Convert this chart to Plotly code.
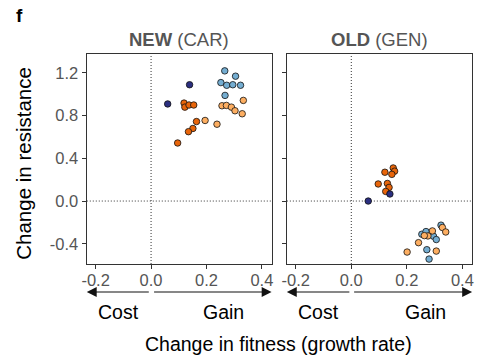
import plotly.graph_objects as go

# Panel NEW (CAR): change in fitness (x) vs change in resistance (y)
new_navy_x = [0.139, 0.060]
new_navy_y = [1.09, 0.91]
new_blue_x = [0.266, 0.305, 0.252, 0.273, 0.295, 0.323, 0.267]
new_blue_y = [1.22, 1.17, 1.11, 1.085, 1.09, 1.085, 0.99]
new_dorange_x = [0.119, 0.122, 0.137, 0.154, 0.164, 0.151, 0.135, 0.096]
new_dorange_y = [0.918, 0.88, 0.90, 0.90, 0.745, 0.68, 0.65, 0.544]
new_lorange_x = [0.195, 0.238, 0.333, 0.256, 0.272, 0.290, 0.303, 0.329]
new_lorange_y = [0.755, 0.72, 0.943, 0.893, 0.896, 0.88, 0.846, 0.818]

# Panel OLD (GEN)
old_navy_x = [0.061, 0.139]
old_navy_y = [0.00, 0.066]
old_dorange_x = [0.121, 0.151, 0.156, 0.146, 0.097, 0.130, 0.136, 0.124]
old_dorange_y = [0.27, 0.31, 0.28, 0.25, 0.16, 0.165, 0.128, 0.09]
old_blue_x = [0.254, 0.269, 0.296, 0.306, 0.323, 0.272, 0.280]
old_blue_y = [-0.311, -0.286, -0.33, -0.361, -0.226, -0.456, -0.544]
old_lorange_x = [0.276, 0.263, 0.292, 0.328, 0.340, 0.306, 0.242, 0.201]
old_lorange_y = [-0.327, -0.324, -0.28, -0.248, -0.29, -0.469, -0.39, -0.478]

x_ticks = [-0.2, 0.0, 0.2, 0.4]
x_tick_text = ["-0.2", "0.0", "0.2", "0.4"]
y_ticks = [-0.4, 0.0, 0.4, 0.8, 1.2]
y_tick_text = ["-0.4", "0.0", "0.4", "0.8", "1.2"]

NAVY = "#2B2F80"
DORANGE = "#E8650A"
LORANGE = "#FDAE61"
LBLUE = "#74ADD1"

FONT = "Liberation Sans, Arial, sans-serif"

fig = go.Figure()


def add_points(xs, ys, color, axis):
    fig.add_trace(go.Scatter(
        x=xs, y=ys, mode="markers", xaxis=axis[0], yaxis=axis[1],
        marker=dict(size=6.5, color=color, line=dict(color="#111111", width=0.8)),
        showlegend=False, hoverinfo="skip"))


left = ("x", "y")
right = ("x2", "y2")
add_points(new_blue_x, new_blue_y, LBLUE, left)
add_points(new_lorange_x, new_lorange_y, LORANGE, left)
add_points(new_dorange_x, new_dorange_y, DORANGE, left)
add_points(new_navy_x, new_navy_y, NAVY, left)
add_points(old_blue_x, old_blue_y, LBLUE, right)
add_points(old_lorange_x, old_lorange_y, LORANGE, right)
add_points(old_dorange_x, old_dorange_y, DORANGE, right)
add_points(old_navy_x, old_navy_y, NAVY, right)

x_range = [-0.232, 0.435]
y_range = [-0.590, 1.378]
y_dom = [95 / 359, 305 / 359]

axis_common = dict(
    showline=True, mirror=True, linecolor="#333333", linewidth=1.4,
    ticks="outside", ticklen=4, tickwidth=1.1, tickcolor="#333333",
    showgrid=False, zeroline=False,
    tickfont=dict(family=FONT, size=16.5, color="#555555"),
)

fig.update_layout(
    width=482, height=359,
    margin=dict(l=0, r=0, t=0, b=0),
    paper_bgcolor="white", plot_bgcolor="white",
    font=dict(family=FONT),
    xaxis=dict(domain=[83 / 482, 270.5 / 482], range=x_range, ticklabelstandoff=-3,
               tickvals=x_ticks, ticktext=x_tick_text, anchor="y", **axis_common),
    xaxis2=dict(domain=[286 / 482, 474 / 482], range=x_range, ticklabelstandoff=-3,
                tickvals=x_ticks, ticktext=x_tick_text, anchor="y2", **axis_common),
    yaxis=dict(domain=y_dom, range=y_range, tickvals=y_ticks,
               ticktext=y_tick_text, anchor="x", **axis_common),
    yaxis2=dict(domain=y_dom, range=y_range, tickvals=y_ticks,
                showticklabels=False, anchor="x2", **axis_common),
)

# dotted reference lines through zero
DOT = dict(color="#333333", width=1, dash="1px,2px")
for xr, yr in (("x", "y"), ("x2", "y2")):
    fig.add_shape(type="line", xref=xr, yref=yr + " domain", x0=0, x1=0, y0=0, y1=1,
                  line=DOT, layer="below")
    fig.add_shape(type="line", xref=xr + " domain", yref=yr, x0=0, x1=1, y0=0, y1=0,
                  line=DOT, layer="below")


def px(xp):
    return xp / 482


def py(yp):
    return 1 - yp / 359


def label(x, y, text, size, color="black", angle=0):
    fig.add_annotation(x=px(x), y=py(y), xref="paper", yref="paper",
                       xanchor="center", yanchor="middle", text=text,
                       textangle=angle, showarrow=False,
                       font=dict(family=FONT, size=size, color=color))


# panel titles
label(176.5, 39, "<b>NEW</b> (CAR)", 18.5, "#555555")
label(380, 39, "<b>OLD</b> (GEN)", 18.5, "#555555")
label(15, 15, "<b>f</b>", 19)

# axis titles
label(18, 163, "Change in resistance", 20.5, angle=-90)
label(278, 344, "Change in fitness (growth rate)", 19.5)

# cost / gain arrows under each panel (tail offset given in pixels)
arrow_y = py(292)
for tail_l, head_l, tail_r, head_r, cost_x, gain_x in (
        (146.5, 83, 151.5, 270.5, 115, 222),
        (350, 286, 354.5, 474, 318, 427)):
    for tail, head in ((tail_l, head_l), (tail_r, head_r)):
        fig.add_annotation(x=px(head), y=arrow_y, ax=tail - head, ay=0,
                           xref="paper", yref="paper", axref="pixel", ayref="pixel",
                           text="", showarrow=True, arrowhead=2, arrowsize=1.8,
                           arrowwidth=1.1, arrowcolor="#111111")
    label(cost_x, 312, "Cost", 19.5)
    label(gain_x, 312, "Gain", 19.5)

fig.write_html("out.html")
